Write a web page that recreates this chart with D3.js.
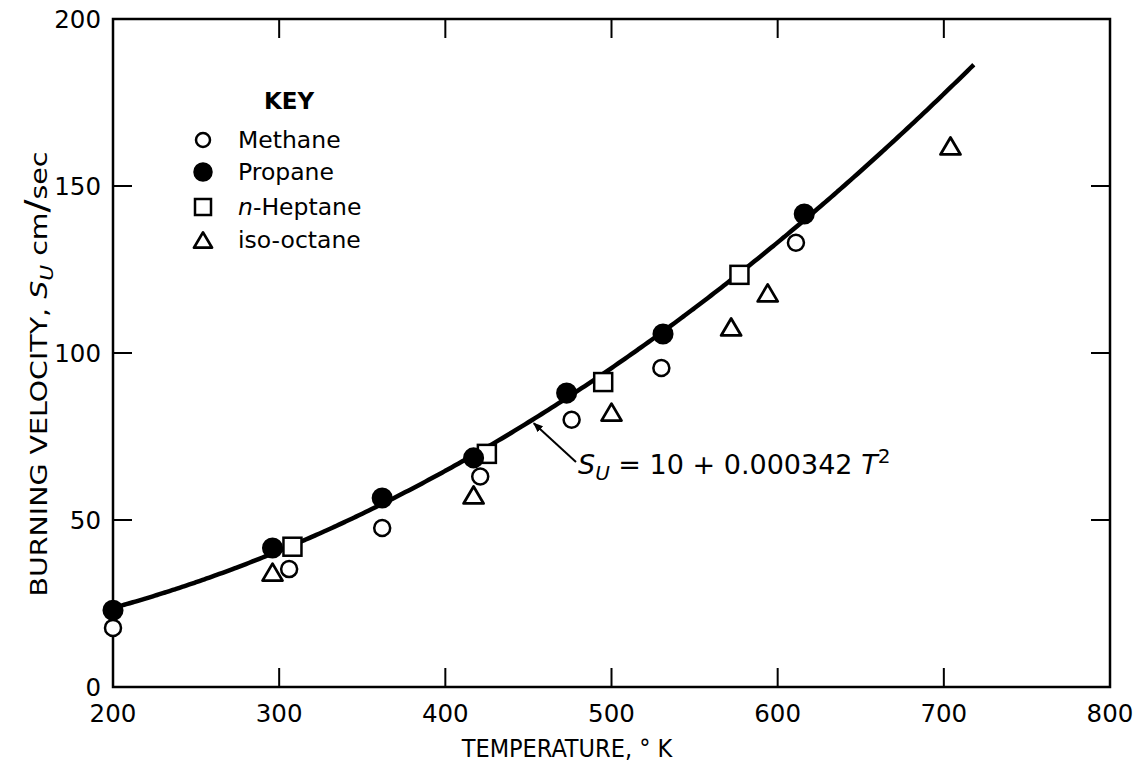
<!DOCTYPE html>
<html><head><meta charset="utf-8">
<script src="https://cdn.jsdelivr.net/npm/d3@7"></script>
<style>
body{margin:0;background:#fff;}
text{font-family:"DejaVu Sans",sans-serif;fill:#000;}
.narrow{font-family:"Liberation Sans Narrow","DejaVu Sans Condensed",sans-serif;}
</style></head><body>
<svg id="c" width="1141" height="767"></svg>
<script>
const xTicks=[300,400,500,600,700];
const xLabels=[200,300,400,500,600,700,800];
const yTicks=[50,100,150];
const yLabels=[0,50,100,150,200];
const methane=[[200,17.7],[306,35.3],[362,47.6],[421,63],[476,80],[530,95.5],[611,133]];
const propane=[[200,23],[296,41.6],[362,56.6],[417,68.6],[473,88],[531,105.7],[616,141.6]];
const heptane=[[308,42],[425,69.8],[495,91.3],[577,123.4]];
const isooctane=[[296,34.4],[417,57.5],[500,82.3],[572,107.8],[594,118],[704,162]];
const fitA=10, fitB=0.000342, fitRange=[200,718];
const legendItems=["Methane","Propane","n-Heptane","iso-octane"];

const svg=d3.select("#c");
const x=d3.scaleLinear().domain([200,800]).range([113,1110]);
const y=d3.scaleLinear().domain([0,200]).range([687,19]);

svg.append("rect").attr("x",x(200)).attr("y",y(200)).attr("width",x(800)-x(200)).attr("height",y(0)-y(200))
  .attr("fill","none").attr("stroke","#000").attr("stroke-width",2.5);
const tl=19;
const g=svg.append("g").attr("stroke","#000").attr("stroke-width",2);
xTicks.forEach(t=>{
  g.append("line").attr("x1",x(t)).attr("x2",x(t)).attr("y1",y(0)).attr("y2",y(0)-tl);
  g.append("line").attr("x1",x(t)).attr("x2",x(t)).attr("y1",y(200)).attr("y2",y(200)+tl);
});
yTicks.forEach(t=>{
  g.append("line").attr("y1",y(t)).attr("y2",y(t)).attr("x1",x(200)).attr("x2",x(200)+tl);
  g.append("line").attr("y1",y(t)).attr("y2",y(t)).attr("x1",x(800)).attr("x2",x(800)-tl);
});
xLabels.forEach(t=>svg.append("text").attr("x",x(t)).attr("y",y(0)+35).attr("text-anchor","middle")
  .attr("font-size",24.5).text(t));
yLabels.forEach(t=>svg.append("text").attr("x",x(200)-12).attr("y",y(t)+9).attr("text-anchor","end")
  .attr("font-size",24.5).text(t));

svg.append("text").attr("class","narrow").attr("x",567).attr("y",757).attr("text-anchor","middle").attr("font-size",25)
  .text("TEMPERATURE, ° K");
const yl=svg.append("text").attr("transform","translate(47,374) rotate(-90)").attr("text-anchor","middle")
  .attr("font-size",23.5).attr("textLength",445).attr("lengthAdjust","spacingAndGlyphs");
yl.append("tspan").text("BURNING VELOCITY, ");
yl.append("tspan").attr("font-style","italic").text("S");
yl.append("tspan").attr("font-style","italic").attr("font-size",18).attr("dy",6).text("U");
yl.append("tspan").attr("dy",-6).text(" cm");
yl.append("tspan").attr("font-size",32).text("/");
yl.append("tspan").text("sec");

const pts=d3.range(fitRange[0],fitRange[1]+0.1,2).map(T=>[T,fitA+fitB*T*T]);
svg.append("path").attr("d",d3.line().x(d=>x(d[0])).y(d=>y(d[1])).curve(d3.curveBasis)(pts))
  .attr("fill","none").attr("stroke","#000").attr("stroke-width",4.5);

function circ(sel,cx,cy,r,filled){sel.append("circle").attr("cx",cx).attr("cy",cy).attr("r",r)
  .attr("fill",filled?"#000":"#fff").attr("stroke","#000").attr("stroke-width",2.5);}
function sq(sel,cx,cy,s){sel.append("rect").attr("x",cx-s/2).attr("y",cy-s/2).attr("width",s).attr("height",s)
  .attr("fill","#fff").attr("stroke","#000").attr("stroke-width",2.5);}
function tri(sel,cx,cy,s){const h=s*0.85;sel.append("path")
  .attr("d",`M${cx},${cy-h/2}L${cx+s/2},${cy+h/2}L${cx-s/2},${cy+h/2}Z`)
  .attr("fill","#fff").attr("stroke","#000").attr("stroke-width",2.8).attr("stroke-linejoin","round");}
const m=svg.append("g");
isooctane.forEach(d=>tri(m,x(d[0]),y(d[1]),20));
methane.forEach(d=>circ(m,x(d[0]),y(d[1]),8,false));
heptane.forEach(d=>sq(m,x(d[0]),y(d[1]),18));
propane.forEach(d=>circ(m,x(d[0]),y(d[1]),9.3,true));

svg.append("text").attr("x",289).attr("y",109).attr("text-anchor","middle").attr("font-size",23).attr("font-weight","bold").text("KEY");
const ly=[140,172,207,240];
circ(svg,203,ly[0],7,false);
circ(svg,203,ly[1],8.5,true);
sq(svg,203,ly[2],16);
tri(svg,203,ly[3],18);
legendItems.forEach((t,i)=>{
  const tx=svg.append("text").attr("x",238).attr("y",ly[i]+8).attr("font-size",23.5);
  if(t==="n-Heptane"){tx.append("tspan").attr("font-style","italic").text("n");tx.append("tspan").text("-Heptane");}
  else tx.text(t);
});

const aT=452, aS=fitA+fitB*aT*aT;
const ax=x(aT), ay=y(aS);
svg.append("defs").append("marker").attr("id","ah").attr("viewBox","0 0 10 10").attr("refX",9).attr("refY",5)
  .attr("markerWidth",5).attr("markerHeight",5).attr("orient","auto")
  .append("path").attr("d","M0,1L10,5L0,9Z").attr("fill","#000");
svg.append("line").attr("x1",576).attr("y1",462).attr("x2",ax+2).attr("y2",ay+3)
  .attr("stroke","#000").attr("stroke-width",2).attr("marker-end","url(#ah)");
const at=svg.append("text").attr("x",578).attr("y",474).attr("font-size",27);
at.append("tspan").attr("font-style","italic").text("S");
at.append("tspan").attr("font-style","italic").attr("font-size",20).attr("dy",6).text("U");
at.append("tspan").attr("dy",-6).text(" = 10 + 0.000342 ");
at.append("tspan").attr("font-style","italic").text("T");
at.append("tspan").attr("font-size",20).attr("dy",-11).text("2");
</script></body></html>
